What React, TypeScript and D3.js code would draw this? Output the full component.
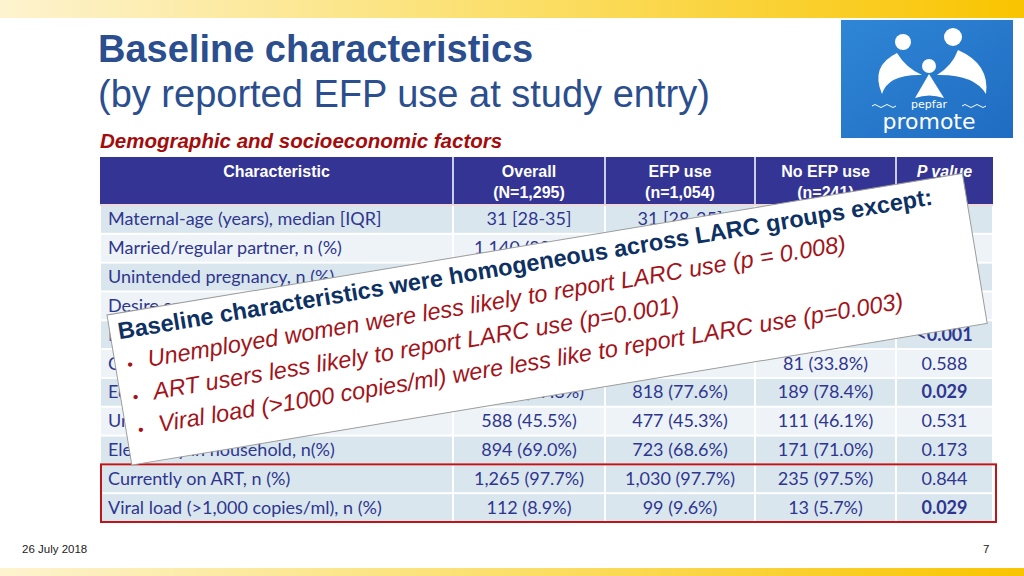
import React from "react";
import * as d3 from "d3";

// table content
const headers = ["Characteristic", "Overall", "EFP use", "No EFP use", "P value"];
const subHeaders = ["", "(N=1,295)", "(n=1,054)", "(n=241)", ""];

const rowLabels = [
  "Maternal-age (years), median [IQR]",
  "Married/regular partner, n (%)",
  "Unintended pregnancy, n (%)",
  "Desire another child, n (%)",
  "Nulliparous, n (%)",
  "Completed secondary school, n (%)",
  "Education beyond primary, n (%)",
  "Unemployed, n (%)",
  "Electricity in household, n(%)",
  "Currently on ART, n (%)",
  "Viral load (>1,000 copies/ml), n (%)",
];
const overall = ["31 [28-35]", "1,140 (88.0%)", "", "", "", "", "1,007 (77.8%)", "588 (45.5%)", "894 (69.0%)", "1,265 (97.7%)", "112 (8.9%)"];
const efpUse = ["31 [28-35]", "", "", "", "", "", "818 (77.6%)", "477 (45.3%)", "723 (68.6%)", "1,030 (97.7%)", "99 (9.6%)"];
const noEfpUse = ["", "", "", "", "", "81 (33.8%)", "189 (78.4%)", "111 (46.1%)", "171 (71.0%)", "235 (97.5%)", "13 (5.7%)"];
const pValues = ["", "", "", "", "<0.001", "0.588", "0.029", "0.531", "0.173", "0.844", "0.029"];
const boldP = [false, false, false, false, true, false, true, false, false, false, true];
const highlighted = [9, 10];

const calloutTitle = "Baseline characteristics were homogeneous across LARC groups except:";
const calloutBullets = [
  "Unemployed women were less likely to report LARC use (p = 0.008)",
  "ART users less likely to report LARC use (p=0.001)",
  "Viral load (>1000 copies/ml) were less like to report LARC use (p=0.003)",
];

const W = 1024;
const H = 576;
const colEdges = [100, 453, 605, 755, 896, 993];
const navy = "#2f3690";
const bodyFont = "Lato, 'Open Sans', sans-serif";

export default function App() {
  const y = d3.scaleBand<number>().domain(d3.range(rowLabels.length)).range([205, 522]);
  const cols = [rowLabels, overall, efpUse, noEfpUse, pValues];

  return (
    <svg width={W} height={H} style={{ position: "absolute", left: 0, top: 0, background: "#fff" }}>
      <defs>
        <linearGradient id="bar" x1="0" x2="1">
          <stop offset="0" stopColor="#fdf3cf" />
          <stop offset="0.5" stopColor="#fbdf6a" />
          <stop offset="1" stopColor="#f9c400" />
        </linearGradient>
        <linearGradient id="logo" x1="0" x2="1" y1="0" y2="1">
          <stop offset="0" stopColor="#2f86d6" />
          <stop offset="1" stopColor="#1f6cc2" />
        </linearGradient>
      </defs>
      <rect x={0} y={0} width={W} height={18} fill="url(#bar)" />
      <rect x={0} y={568} width={W} height={8} fill="url(#bar)" />

      {/* titles */}
      <g fontFamily="'Liberation Sans', Arial, sans-serif" fill="#2a4e8e">
        <text x={98} y={62} fontSize={38} fontWeight="bold">Baseline characteristics</text>
        <text x={98} y={107} fontSize={38}>(by reported EFP use at study entry)</text>
      </g>
      <text x={100} y={148} fontSize={20.5} fontWeight="bold" fontStyle="italic" fill="#a30c0c"
        fontFamily="'Liberation Sans', Arial, sans-serif">
        Demographic and socioeconomic factors
      </text>

      {/* logo */}
      <g>
        <rect x={841} y={20} width={172} height={118} fill="url(#logo)" />
        <g fill="#fff">
          <circle cx={903} cy={42} r={8} />
          <circle cx={953} cy={37} r={9} />
          <circle cx={929} cy={66} r={7} />
          <path d="M 897 53 Q 870 66 882 94 Q 888 74 922 75 Q 906 68 897 53 Z" />
          <path d="M 958 50 Q 990 64 986 94 Q 974 74 937 75 Q 952 66 958 50 Z" />
          <path d="M 929 74 L 915 98 Q 929 93 944 98 Z" />
          <text x={929} y={108} fontSize={11} textAnchor="middle" fontFamily="'DejaVu Sans', sans-serif">pepfar</text>
          <text x={929} y={129} fontSize={22} textAnchor="middle" fontFamily="'DejaVu Sans', sans-serif">promote</text>
        </g>
        <path d="M 872 106 q 3 -3 6 0 t 6 0 t 6 0 t 6 0 M 962 106 q 3 -3 6 0 t 6 0 t 6 0 t 6 0"
          stroke="#fff" fill="none" strokeWidth={1} />
      </g>

      {/* header */}
      <rect x={colEdges[0]} y={157} width={colEdges[5] - colEdges[0]} height={47} fill="#343494" />
      {headers.map((h, i) => {
        const cx = (colEdges[i] + colEdges[i + 1]) / 2;
        return (
          <g key={h} fill="#fff" fontFamily="'Liberation Sans', Arial, sans-serif" fontWeight="bold" fontSize={16}
            textAnchor="middle" fontStyle={i === 4 ? "italic" : "normal"}>
            <text x={cx} y={177}>{h}</text>
            {subHeaders[i] && <text x={cx} y={198}>{subHeaders[i]}</text>}
          </g>
        );
      })}
      {colEdges.slice(1, 5).map((x) => (
        <line key={x} x1={x} x2={x} y1={157} y2={204} stroke="#fff" strokeWidth={1.5} />
      ))}
      <line x1={colEdges[0]} x2={colEdges[5]} y1={205} y2={205} stroke="#e2b3b3" strokeWidth={1} />

      {/* body */}
      {rowLabels.map((_, r) => (
        <g key={r}>
          {colEdges.slice(0, 5).map((x0, c) => (
            <rect key={c} x={x0 + 1} y={y(r)! + 1} width={colEdges[c + 1] - x0 - 2} height={y.bandwidth() - 2}
              fill={r % 2 === 0 || r === 9 ? "#dae6ed" : "#edf3f6"} />
          ))}
          {cols.map((col, c) => {
            const cx = c === 0 ? 108 : (colEdges[c] + colEdges[c + 1]) / 2;
            return (
              <text key={c} x={cx} y={y(r)! + y.bandwidth() / 2 + 6} textAnchor={c === 0 ? "start" : "middle"}
                fontSize={18} fontFamily={bodyFont} fill={navy}
                fontWeight={c === 4 && boldP[r] ? "bold" : "normal"}>
                {col[r]}
              </text>
            );
          })}
        </g>
      ))}
      <rect x={101} y={y(highlighted[0])!} width={895} height={y.bandwidth() * highlighted.length}
        fill="none" stroke="#c0141b" strokeWidth={2} />

      {/* callout */}
      <g transform="translate(107,315) rotate(-9.4)" fontFamily="'Liberation Sans', Arial, sans-serif">
        <rect x={0} y={0} width={867} height={152} fill="#fff" stroke="#9c9c9c" strokeWidth={1} />
        <text x={8} y={26} fontSize={23.5} fontWeight="bold" fill="#0e3163">{calloutTitle}</text>
        {calloutBullets.map((b, i) => (
          <g key={b} fill="#a3141a" fontSize={23.5} fontStyle="italic">
            <text x={12} y={58 + i * 33} fontSize={16} fontStyle="normal">•</text>
            <text x={33} y={58 + i * 33}>{b}</text>
          </g>
        ))}
      </g>

      {/* footer */}
      <text x={22} y={553} fontSize={11.5} fontFamily="'Liberation Sans Narrow', 'Liberation Sans', sans-serif" fill="#222">26 July 2018</text>
      <text x={983} y={553} fontSize={11.5} fontFamily="'Liberation Sans', sans-serif" fill="#222">7</text>
    </svg>
  );
}
